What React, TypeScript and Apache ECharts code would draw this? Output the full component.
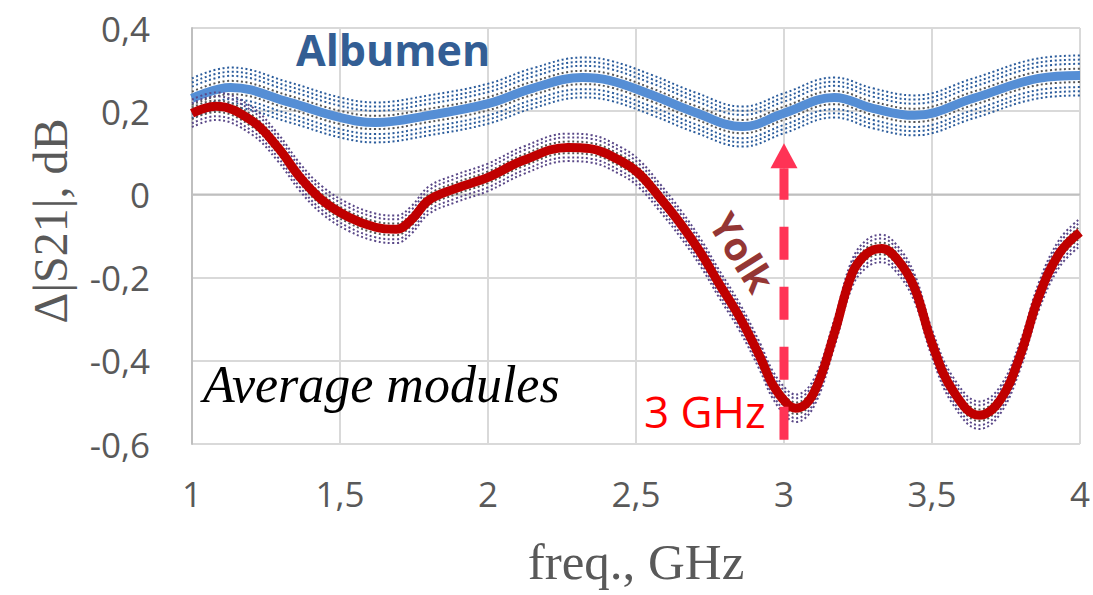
import React, { useEffect, useRef } from "react";
import * as echarts from "echarts";

// Mean |S21| difference curves (dB) versus frequency (GHz)
const freqAlbumen = [1.0, 1.13, 1.33, 1.5, 1.62, 1.8, 2.0, 2.15, 2.32, 2.41, 2.55, 2.7, 2.86, 3.0, 3.17, 3.3, 3.44, 3.64, 3.86, 4.0];
const albumenMean = [0.231, 0.257, 0.221, 0.185, 0.173, 0.19, 0.218, 0.255, 0.281, 0.274, 0.24, 0.197, 0.163, 0.195, 0.233, 0.207, 0.19, 0.231, 0.279, 0.286];

const freqYolk = [
  1.0, 1.08, 1.2, 1.29, 1.365, 1.44, 1.53, 1.62, 1.69, 1.74, 1.8, 1.89, 2.0, 2.12, 2.27, 2.345, 2.45, 2.51, 2.58, 2.65,
  2.72, 2.78, 2.85, 2.92, 2.96, 3.01, 3.04, 3.1, 3.17, 3.23, 3.28, 3.33, 3.38, 3.44, 3.5, 3.57, 3.66, 3.73, 3.8, 3.86, 3.93, 4.0,
];
const yolkMean = [
  0.195, 0.212, 0.178, 0.113, 0.041, -0.014, -0.055, -0.079, -0.084, -0.062, -0.014, 0.014, 0.041, 0.082, 0.113, 0.11, 0.08, 0.05, -0.007, -0.07,
  -0.142, -0.214, -0.295, -0.392, -0.455, -0.503, -0.514, -0.478, -0.334, -0.19, -0.142, -0.13, -0.154, -0.223, -0.358, -0.471, -0.531, -0.495, -0.383, -0.247, -0.142, -0.091,
];

// Offsets of the individual-module traces around each mean (dB)
const albumenSpread = [0.016, 0.028, 0.038, 0.048];
const yolkSpread = [0.014, 0.024, 0.033];

// Axis ranges
const xMin = 1;
const xMax = 4;
const xStep = 0.5;
const yMin = -0.6;
const yMax = 0.4;
const yStep = 0.2;

// Marker at 3 GHz
const markerFreq = 3;
const arrowBase = -0.59;
const arrowTip = 0.123;

const decimalComma = (v: number) => String(+v.toFixed(1)).replace(".", ",");

function traceSeries(freq: number[], mean: number[], offsets: number[], nearColor: string, farColor: string, z: number) {
  const out: any[] = [];
  offsets.forEach((off, k) => {
    [1, -1].forEach((sign) => {
      out.push({
        type: "line",
        data: freq.map((f, i) => [f, mean[i] + sign * off]),
        smooth: 0.4,
        showSymbol: false,
        symbol: "none",
        silent: true,
        z,
        lineStyle: { color: k === 0 ? nearColor : farColor, width: 2, type: [2, 2.6], cap: "butt" },
      });
    });
  });
  return out;
}

export default function App() {
  const ref = useRef<HTMLDivElement>(null);

  useEffect(() => {
    if (!ref.current) return;
    const chart = echarts.init(ref.current, undefined, { renderer: "svg" });

    const option: any = {
      animation: false,
      backgroundColor: "#ffffff",
      grid: { left: 192, top: 28, width: 888, height: 416 },
      xAxis: {
        type: "value",
        min: xMin,
        max: xMax,
        interval: xStep,
        axisLine: { show: false },
        axisTick: { show: false },
        splitLine: { show: true, lineStyle: { color: "#d9d9d9", width: 2 } },
        axisLabel: {
          formatter: decimalComma,
          color: "#595959",
          fontSize: 35,
          fontFamily: "'Liberation Sans Narrow', 'Open Sans', sans-serif",
          margin: 32,
          verticalAlign: "top",
        },
      },
      yAxis: {
        type: "value",
        min: yMin,
        max: yMax,
        interval: yStep,
        axisLine: { show: true, lineStyle: { color: "#bfbfbf", width: 2 } },
        axisTick: { show: false },
        splitLine: { show: true, lineStyle: { color: "#d9d9d9", width: 2 } },
        axisLabel: {
          formatter: decimalComma,
          color: "#595959",
          fontSize: 35,
          fontFamily: "'Open Sans', sans-serif",
          margin: 42,
        },
      },
      series: [
        {
          type: "line",
          data: [
            [xMin, 0],
            [xMax, 0],
          ],
          symbol: "none",
          silent: true,
          z: 0,
          lineStyle: { color: "#bfbfbf", width: 2 },
        },
        ...traceSeries(freqAlbumen, albumenMean, albumenSpread, "#555555", "#2b5c9c", 1),
        {
          type: "line",
          data: freqAlbumen.map((f, i) => [f, albumenMean[i]]),
          smooth: 0.4,
          symbol: "none",
          silent: true,
          z: 2,
          lineStyle: { color: "#558ed5", width: 9 },
        },
        ...traceSeries(freqYolk, yolkMean, yolkSpread, "#555555", "#5a4888", 3),
        {
          type: "line",
          data: freqYolk.map((f, i) => [f, yolkMean[i]]),
          smooth: 0.4,
          symbol: "none",
          silent: true,
          z: 4,
          lineStyle: { color: "#c00000", width: 9 },
        },
      ],
    };
    chart.setOption(option);

    const [ax, ay0] = chart.convertToPixel({ gridIndex: 0 }, [markerFreq, arrowBase]);
    const [, ayTip] = chart.convertToPixel({ gridIndex: 0 }, [markerFreq, arrowTip]);
    const headLen = 25;
    const headHalf = 13.5;

    chart.setOption({
      graphic: [
        {
          type: "line",
          z: 50,
          shape: { x1: ax, y1: ay0, x2: ax, y2: ayTip + headLen },
          style: { stroke: "#ff3355", lineWidth: 9, lineDash: [33, 27] },
        },
        {
          type: "polygon",
          z: 50,
          shape: {
            points: [
              [ax, ayTip],
              [ax - headHalf, ayTip + headLen],
              [ax + headHalf, ayTip + headLen],
            ],
          },
          style: { fill: "#ff3355" },
        },
        {
          type: "text",
          z: 60,
          left: 296,
          top: 28,
          style: { text: "Albumen", fill: "#335e94", font: "bold 43px 'Open Sans', sans-serif" },
        },
        {
          type: "text",
          z: 60,
          x: 743,
          y: 252,
          rotation: (-58 * Math.PI) / 180,
          style: {
            text: "Yolk",
            fill: "#943634",
            font: "bold 39px 'Open Sans', sans-serif",
            align: "center",
            verticalAlign: "middle",
          },
        },
        {
          type: "text",
          z: 60,
          left: 203,
          top: 358,
          style: { text: "Average modules", fill: "#000000", font: "italic 52px 'Liberation Serif', serif" },
        },
        {
          type: "text",
          z: 60,
          left: 644,
          top: 389,
          style: { text: "3 GHz", fill: "#ff0000", font: "44px 'Open Sans', sans-serif" },
        },
        {
          type: "text",
          x: 50,
          y: 221,
          rotation: Math.PI / 2,
          style: {
            text: "Δ|S21|, dB",
            fill: "#595959",
            font: "48px 'Liberation Serif', serif",
            align: "center",
            verticalAlign: "middle",
          },
        },
        {
          type: "text",
          x: 636,
          y: 562,
          style: {
            text: "freq., GHz",
            fill: "#595959",
            font: "51px 'Liberation Serif', serif",
            align: "center",
            verticalAlign: "middle",
          },
        },
      ],
    });

    return () => chart.dispose();
  }, []);

  return <div ref={ref} style={{ position: "fixed", left: 0, top: 0, width: 1093, height: 595 }} />;
}
